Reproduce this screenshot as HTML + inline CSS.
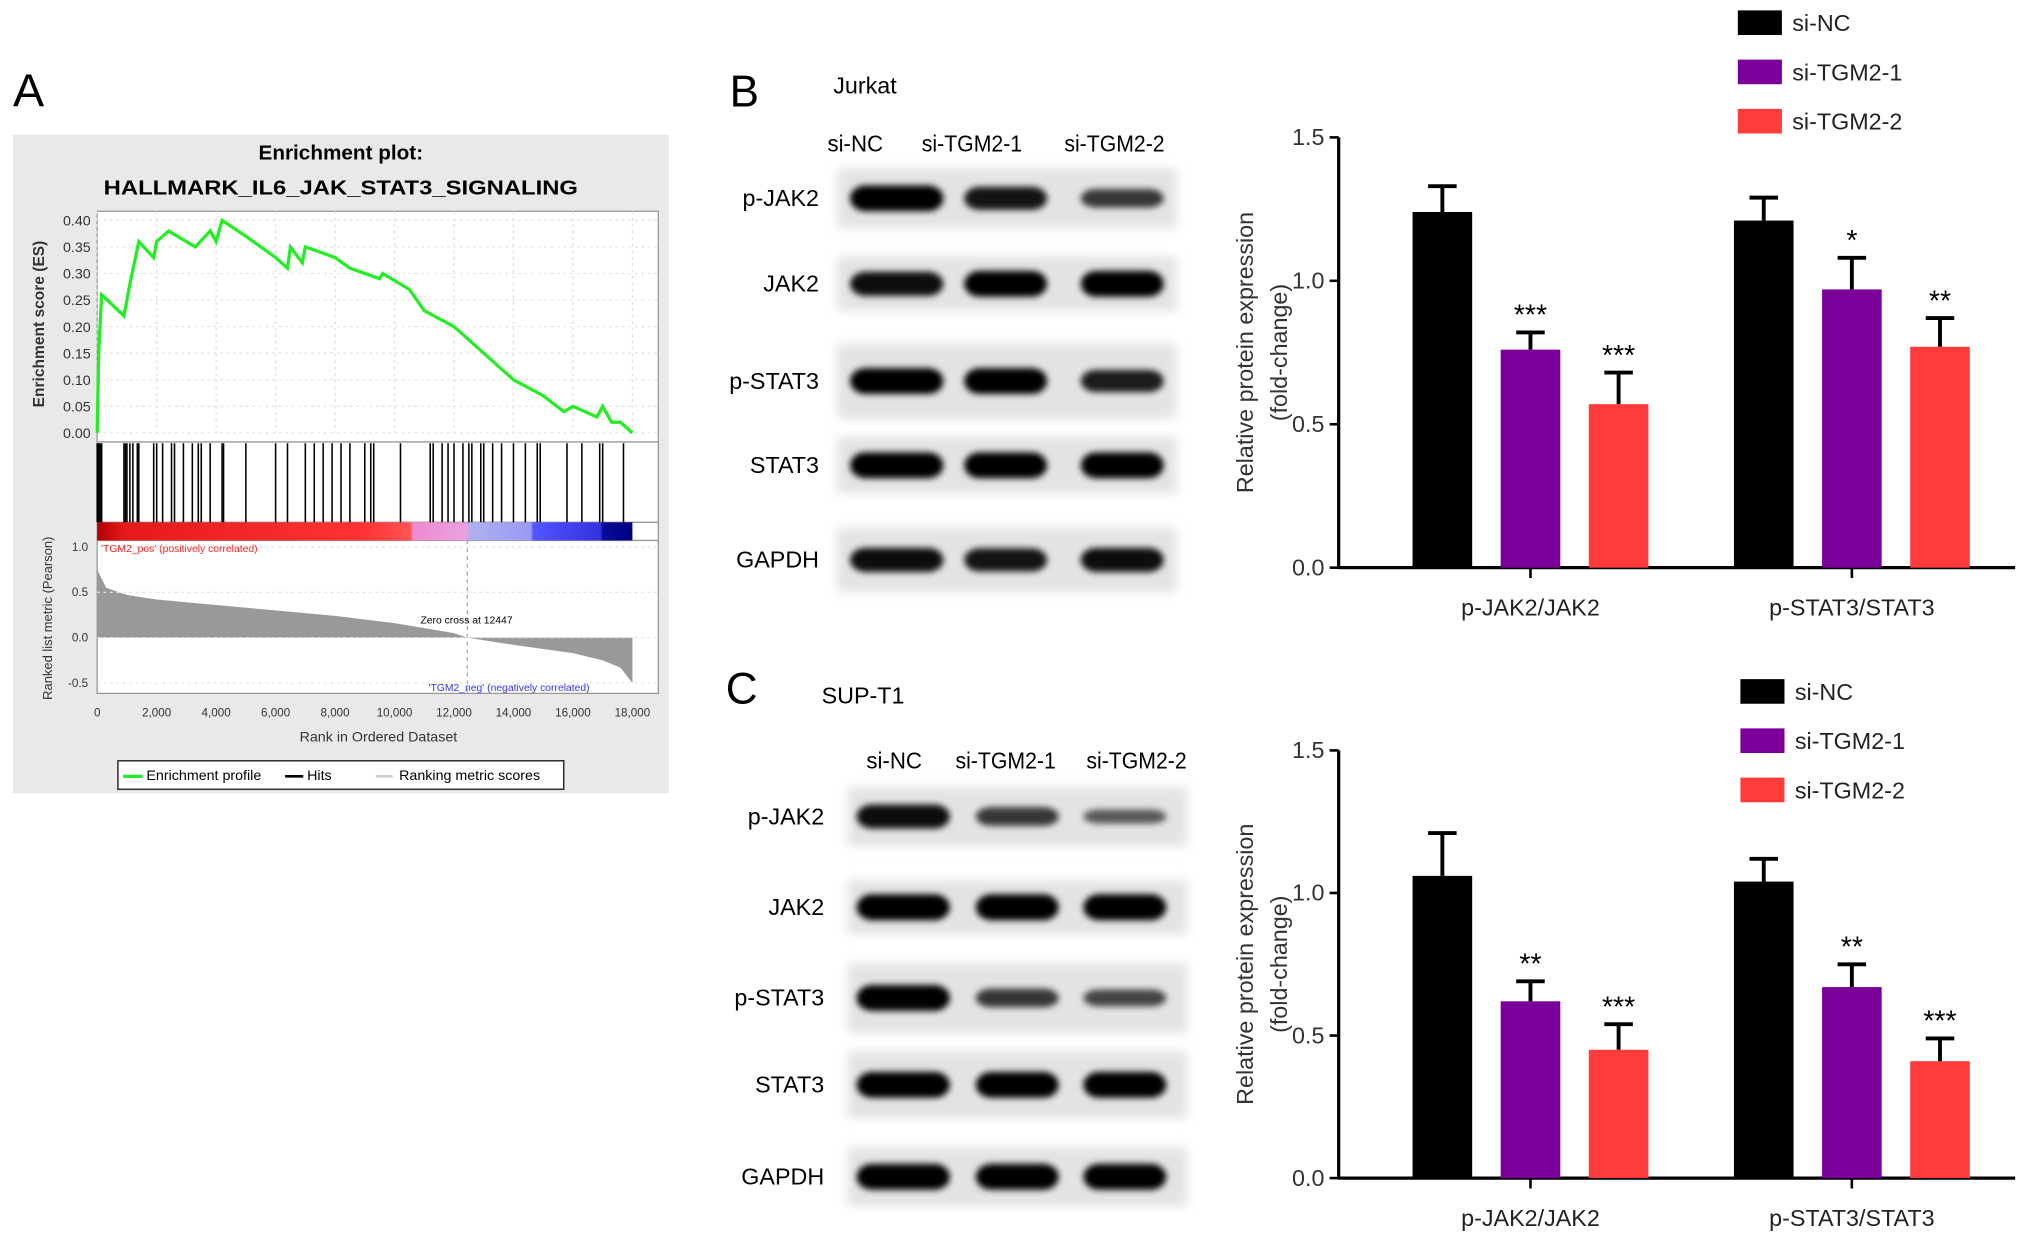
<!DOCTYPE html>
<html><head><meta charset="utf-8"><style>
html,body{margin:0;padding:0;background:#fff}
svg{display:block;font-family:"Liberation Sans",Arial,sans-serif}
</style></head><body>
<svg id="fig" width="2032" height="1242" viewBox="0 0 1568 958.3" preserveAspectRatio="none" xmlns="http://www.w3.org/2000/svg">
<defs>
<filter id="blur" x="-20%" y="-50%" width="140%" height="200%"><feGaussianBlur stdDeviation="2.5"/></filter>
<filter id="blur2" x="-20%" y="-20%" width="140%" height="140%"><feGaussianBlur stdDeviation="4"/></filter>
<linearGradient id="cbar" x1="0" x2="1">
<stop offset="0" stop-color="#b00000"/><stop offset="0.05" stop-color="#e41a1a"/><stop offset="0.5" stop-color="#f33"/><stop offset="0.585" stop-color="#f55"/>
<stop offset="0.59" stop-color="#f08ad0"/><stop offset="0.69" stop-color="#e9a0e0"/><stop offset="0.695" stop-color="#b0b0f0"/><stop offset="0.81" stop-color="#9a9af5"/>
<stop offset="0.815" stop-color="#5555ff"/><stop offset="0.94" stop-color="#3333dd"/><stop offset="0.945" stop-color="#0a0a99"/><stop offset="1" stop-color="#000080"/>
</linearGradient>
</defs>
<g id="panelA"></g>
<g id="blots"></g>
<g id="chartB"></g>
<g id="chartC"></g>
</svg>
<script>
// ---- GSEA data ----
const esRanks = [0,0.05,0.15,0.9,1.1,1.4,1.9,2.0,2.4,3.0,3.3,3.8,4.0,4.2,5.0,6.0,6.4,6.5,6.9,7.0,8.0,8.5,9.5,9.6,10.5,11.0,12.0,13.0,14.0,15.0,15.7,16.0,16.8,17.0,17.3,17.6,18.0];
const esValues = [0,0.15,0.26,0.22,0.28,0.36,0.33,0.36,0.38,0.36,0.35,0.38,0.36,0.40,0.37,0.33,0.31,0.35,0.32,0.35,0.33,0.31,0.29,0.30,0.27,0.23,0.20,0.15,0.10,0.07,0.04,0.05,0.03,0.05,0.02,0.02,0];
const hitRanks = [0,0.05,0.1,0.15,0.9,0.95,1.0,1.1,1.2,1.35,1.4,1.9,2.0,2.2,2.5,2.6,2.9,3.2,3.4,3.5,3.8,4.2,4.25,5.0,6.0,6.4,7.0,7.3,7.6,7.9,8.2,8.5,9.0,9.2,9.3,10.2,11.2,11.3,11.6,11.8,12.0,12.3,12.5,12.6,12.9,13.0,13.3,13.6,14.0,14.4,14.8,14.9,15.8,16.3,16.9,17.0,17.7];
const metricRanks = [0,0.3,1,2,4,6,8,10,12,12.447,14,16,17,17.6,18];
const metricValues = [0.75,0.55,0.47,0.42,0.36,0.30,0.24,0.16,0.05,0,-0.08,-0.17,-0.25,-0.33,-0.5];
const esTicks = [0,0.05,0.1,0.15,0.2,0.25,0.3,0.35,0.4];
const metricTicks = [1.0,0.5,0.0,-0.5];
const rankTicks = [0,2000,4000,6000,8000,10000,12000,14000,16000,18000];
// ---- bar data ----
const groups = ["p-JAK2/JAK2","p-STAT3/STAT3"];
const seriesNames = ["si-NC","si-TGM2-1","si-TGM2-2"];
const seriesColors = ["#000000","#7b0099","#ff3b3b"];
const jurkatMeans = [[1.24,0.76,0.57],[1.21,0.97,0.77]];
const jurkatErr = [[0.09,0.06,0.11],[0.08,0.11,0.10]];
const jurkatStars = [["","***","***"],["","*","**"]];
const suptMeans = [[1.06,0.62,0.45],[1.04,0.67,0.41]];
const suptErr = [[0.15,0.07,0.09],[0.08,0.08,0.08]];
const suptStars = [["","**","***"],["","**","***"]];
const yTicks = [0.0,0.5,1.0,1.5];
// ---- blot data (band intensity 0-1) ----
const blotRows = ["p-JAK2","JAK2","p-STAT3","STAT3","GAPDH"];
const jurkatBands = [[1,0.85,0.6],[0.9,1,1],[1,1,0.8],[1,1,1],[0.9,0.85,0.9]];
const suptBands = [[0.9,0.6,0.35],[1,1,1],[1,0.6,0.5],[1,1,1],[1,1,1]];

const NS="http://www.w3.org/2000/svg";
function mk(parent,tag,attrs,text){const e=document.createElementNS(NS,tag);for(const k in attrs)e.setAttribute(k,attrs[k]);if(text!==undefined)e.textContent=text;parent.appendChild(e);return e;}

// ===== Panel A =====
const A=document.getElementById('panelA');
let t=mk(A,'text',{x:10,y:82,'font-size':36},'A');


let bg=mk(A,'rect',{x:10,y:104,width:506,height:508,fill:'#e9e9e9'});


t=mk(A,'text',{x:263,y:123,'font-size':16,'font-weight':'bold','text-anchor':'middle'},'Enrichment plot:');


t=mk(A,'text',{x:263,y:150,'font-size':16,'font-weight':'bold','text-anchor':'middle',textLength:366,lengthAdjust:'spacingAndGlyphs'},'HALLMARK_IL6_JAK_STAT3_SIGNALING');


const rx=r=>75+r/18*413;
const esy=v=>334-v*410;
const my=v=>492-v*70;
let box=mk(A,'rect',{x:75,y:163,width:433,height:372,fill:'#fff',stroke:'#999','stroke-width':1});


mk(A,'line',{x1:75,x2:508,y1:341,y2:341,stroke:'#999'});
mk(A,'line',{x1:75,x2:508,y1:403,y2:403,stroke:'#999'});
mk(A,'line',{x1:75,x2:508,y1:417,y2:417,stroke:'#999'});
rankTicks.forEach(r=>{mk(A,'line',{x1:rx(r/1000),x2:rx(r/1000),y1:163,y2:334,stroke:'#ddd','stroke-dasharray':'2,3'});});
esTicks.forEach(v=>{mk(A,'line',{x1:75,x2:508,y1:esy(v),y2:esy(v),stroke:'#e3e3e3','stroke-dasharray':'2,3'});
 const l=mk(A,'text',{x:70,y:esy(v)+4,'font-size':11,'text-anchor':'end',fill:'#333'},v.toFixed(2));
 
 });
let pts=esRanks.map((r,i)=>rx(r)+','+esy(esValues[i])).join(' ');
let es=mk(A,'polyline',{points:pts,fill:'none',stroke:'#22ee22','stroke-width':2.5});


hitRanks.forEach(r=>{const h=mk(A,'line',{x1:rx(r),x2:rx(r),y1:342,y2:403,stroke:'#000','stroke-width':1.2});
 
 });
let cb=mk(A,'rect',{x:75,y:403,width:413,height:14,fill:'url(#cbar)'});


let mp='M'+rx(0)+','+my(0)+' '+metricRanks.map((r,i)=>'L'+rx(r)+','+my(metricValues[i])).join(' ')+' L'+rx(18)+','+my(0)+'Z';
let ma=mk(A,'path',{d:mp,fill:'#999'});


mk(A,'line',{x1:rx(12.447),x2:rx(12.447),y1:417,y2:535,stroke:'#aaa','stroke-dasharray':'3,3'});
metricTicks.forEach(v=>{mk(A,'line',{x1:75,x2:508,y1:my(v),y2:my(v),stroke:'#e3e3e3','stroke-dasharray':'2,3'});
 const l=mk(A,'text',{x:68,y:my(v)+3,'font-size':9,'text-anchor':'end',fill:'#333'},v.toFixed(1));
 
 });
t=mk(A,'text',{x:78,y:426,'font-size':8,fill:'#f22'},"'TGM2_pos' (positively correlated)");


t=mk(A,'text',{x:455,y:533,'font-size':8,fill:'#33f','text-anchor':'end'},"'TGM2_neg' (negatively correlated)");


t=mk(A,'text',{x:360,y:481,'font-size':8,'text-anchor':'middle'},'Zero cross at 12447');


rankTicks.forEach(r=>{const l=mk(A,'text',{x:rx(r/1000),y:553,'font-size':9,'text-anchor':'middle',fill:'#333'},r===0?'0':r.toLocaleString('en-US'));
 
 });
t=mk(A,'text',{x:292,y:572,'font-size':11,'text-anchor':'middle',fill:'#333'},'Rank in Ordered Dataset');


t=mk(A,'text',{x:0,y:0,'font-size':12,'font-weight':'bold','text-anchor':'middle',fill:'#333',transform:'translate(34,250) rotate(-90)'},'Enrichment score (ES)');


t=mk(A,'text',{x:0,y:0,'font-size':10,'text-anchor':'middle',fill:'#333',transform:'translate(40,477) rotate(-90)'},'Ranked list metric (Pearson)');


let lg=mk(A,'rect',{x:91,y:587,width:344,height:22,fill:'#fff',stroke:'#333','stroke-width':1.2});


mk(A,'line',{x1:95,x2:110,y1:599,y2:599,stroke:'#22ee22','stroke-width':2.5});
mk(A,'line',{x1:220,x2:234,y1:599,y2:599,stroke:'#000','stroke-width':2});
mk(A,'line',{x1:290,x2:303,y1:599,y2:599,stroke:'#ccc','stroke-width':2});
t=mk(A,'text',{x:113,y:602,'font-size':11},'Enrichment profile');
t=mk(A,'text',{x:237,y:602,'font-size':11},'Hits');
t=mk(A,'text',{x:308,y:602,'font-size':11},'Ranking metric scores');

// ===== Blots =====
const Bl=document.getElementById('blots');
function blotPanel(letter,lx,ly,cell,cx,cy,cols,colY,colX,rowLabelX,rowYs,rowH,bx,bw,bandX,bandW,data){
 let e=mk(Bl,'text',{x:lx,y:ly,'font-size':34},letter);
 
 
 e=mk(Bl,'text',{x:cx,y:cy,'font-size':18},cell);
 
 
 cols.forEach((c,i)=>{const l=mk(Bl,'text',{x:colX[i],y:colY,'font-size':18,'text-anchor':'middle',textLength:c.length*8.6,lengthAdjust:'spacingAndGlyphs'},c);
  
  });
 blotRows.forEach((r,j)=>{
  const l=mk(Bl,'text',{x:rowLabelX,y:rowYs[j]+6,'font-size':18,'text-anchor':'end'},r);
  
  
  const g=mk(Bl,'g',{});
  
  
  mk(g,'rect',{x:bx+3,y:rowYs[j]-rowH[j]/2+3,width:bw-6,height:rowH[j]-6,fill:'#e3e3e3',filter:'url(#blur2)'});
  data[j].forEach((v,i)=>{const b=mk(g,'rect',{x:bandX[i]-bandW[i]/2,y:rowYs[j]-(3+7*v),width:bandW[i],height:2*(3+7*v),rx:12,ry:(3+7*v),fill:'#000','fill-opacity':0.4+0.6*v,filter:'url(#blur)'});
   
   });
 });
}
blotPanel('B',563,82,'Jurkat',643,72,seriesNames,117,[660,750,860],632,[153,219,294,359,432],[52,48,64,50,56],643,268,[692,776,866],[72,64,64],jurkatBands);
blotPanel('C',560,543,'SUP-T1',634,543,seriesNames,593,[690,776,877],636,[630,700,770,837,908],[52,48,60,58,52],651,268,[697,785,868],[72,64,64],suptBands);

// ===== Bar charts =====
function barChart(id,y0,y15,means,errs,stars,legY,legX){
 const G=document.getElementById(id);
 const ax=1033, xEnd=1555;
 const ys=v=>y0-(v/1.5)*(y0-y15);
 const groupCenter=[1181,1429], offs=[-68,0,68], bw=46;
 mk(G,'line',{x1:ax,x2:ax,y1:y15,y2:y0+1,stroke:'#000','stroke-width':2.5});
 mk(G,'line',{x1:ax,x2:xEnd,y1:y0,y2:y0,stroke:'#000','stroke-width':2.5});
 yTicks.forEach(v=>{mk(G,'line',{x1:ax-7,x2:ax,y1:ys(v),y2:ys(v),stroke:'#000','stroke-width':2});
  const l=mk(G,'text',{x:ax-11,y:ys(v)+6,'font-size':18,'text-anchor':'end',fill:'#333'},v.toFixed(1));
  
  });
 groups.forEach((gname,gi)=>{
  const gc=groupCenter[gi];
  mk(G,'line',{x1:gc,x2:gc,y1:y0,y2:y0+8,stroke:'#000','stroke-width':2});
  const l=mk(G,'text',{x:gc,y:y0+37,'font-size':18,'text-anchor':'middle',fill:'#222'},gname);
  
  
  means[gi].forEach((m,si)=>{
   const x=gc+offs[si]-bw/2;
   const top=ys(m), et=ys(m+errs[gi][si]);
   const b=mk(G,'rect',{x:x,y:top,width:bw,height:y0-top,fill:seriesColors[si]});
   
   
   const e=mk(G,'path',{d:`M${x+bw/2},${top} V${et} M${x+bw/2-11},${et} H${x+bw/2+11}`,stroke:'#000',fill:'none','stroke-width':3});
   
   
   if(stars[gi][si]){const s=mk(G,'text',{x:x+bw/2,y:et-6,'font-size':22,'text-anchor':'middle'},stars[gi][si]);
    
    }
  });
 });
 const tt=mk(G,'text',{x:0,y:0,'font-size':18,'text-anchor':'middle',fill:'#333',transform:`translate(967,${(y0+y15)/2}) rotate(-90)`},'Relative protein expression');
 
 
 const t2=mk(G,'text',{x:0,y:0,'font-size':18,'text-anchor':'middle',fill:'#333',transform:`translate(993,${(y0+y15)/2}) rotate(-90)`},'(fold-change)');
 
 
 seriesNames.forEach((n,si)=>{
  const r=mk(G,'rect',{x:legX,y:legY+si*38,width:34,height:19,fill:seriesColors[si]});
  
  
  const l=mk(G,'text',{x:legX+42,y:legY+si*38+16,'font-size':18,fill:'#222'},n);
  
  
 });
}
barChart('chartB',438,106,jurkatMeans,jurkatErr,jurkatStars,8,1341);
barChart('chartC',909,579,suptMeans,suptErr,suptStars,524,1343);
</script>
</body></html>
